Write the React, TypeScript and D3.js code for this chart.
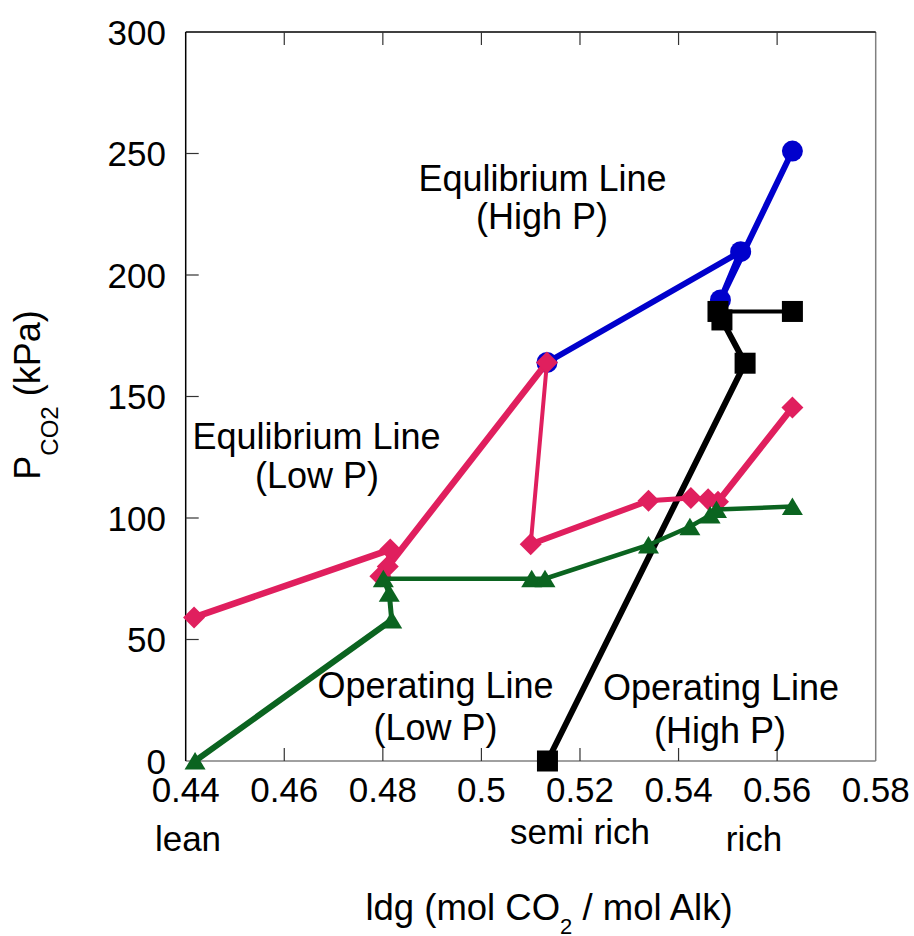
import React from "react";
import * as d3 from "d3";

const xTicks = [0.44, 0.46, 0.48, 0.5, 0.52, 0.54, 0.56, 0.58];
const xTickLabels = ["0.44", "0.46", "0.48", "0.5", "0.52", "0.54", "0.56", "0.58"];
const yTicks = [0, 50, 100, 150, 200, 250, 300];

// Equilibrium Line (High P) – blue circles
const eqHighX = [0.5133, 0.5526, 0.5485, 0.5631];
const eqHighY = [164, 209.6, 189.7, 251];
// Equilibrium Line (Low P) – pink diamonds
const eqLowX = [0.4417, 0.4815, 0.481, 0.4795, 0.5133, 0.51, 0.5339, 0.5425, 0.546, 0.548, 0.5631];
const eqLowY = [59.1, 87, 80, 76, 164, 89.2, 107.1, 108.2, 107.7, 106.7, 145.5];
// Operating Line (Low P) – green triangles
const opLowX = [0.4419, 0.4818, 0.4813, 0.4801, 0.5102, 0.5129, 0.5339, 0.5423, 0.5464, 0.5477, 0.5631];
const opLowY = [0, 58, 69, 75, 75, 75, 88.9, 96.4, 101.2, 103.5, 104.7];
// Operating Line (High P) – black squares
const opHighX = [0.5134, 0.5535, 0.5488, 0.548, 0.5631];
const opHighY = [0, 163.7, 181.5, 185, 185];

// segment stroke widths (style)
const eqHighW = [6, 6, 6];
const eqLowW = [6.5, 6, 6, 6.5, 4, 6, 5, 5, 5, 6.5];
const opLowW = [6, 5, 5, 4.5, 4.5, 4.5, 4.5, 4.5, 4.5, 4.5];
const opHighW = [6, 6, 6, 4];

const W = 914, H = 936;
const L = 185.7, R = 875.7, T = 32, B = 761;
const FONT = "'Liberation Sans', Arial, Helvetica, sans-serif";

const x = d3.scaleLinear().domain([0.44, 0.58]).range([L, R]);
const y = d3.scaleLinear().domain([0, 300]).range([B, T]);

type Pt = [number, number];
const zip = (xs: number[], ys: number[]): Pt[] => xs.map((v, i) => [v, ys[i]]);
const lineGen = d3.line<Pt>().x(d => x(d[0])).y(d => y(d[1]));

function Segments({ pts, widths, color }: { pts: Pt[]; widths: number[]; color: string }) {
  return (
    <g>
      {pts.slice(1).map((p, i) => (
        <path key={i} d={lineGen([pts[i], p]) || ""} stroke={color} strokeWidth={widths[i]} fill="none" strokeLinecap="round" />
      ))}
    </g>
  );
}

export default function App() {
  const blue = "#0000cc";
  const pink = "#e01f5e";
  const green = "#0b6420";
  const black = "#000000";
  const eqHigh = zip(eqHighX, eqHighY);
  const eqLow = zip(eqLowX, eqLowY);
  const opLow = zip(opLowX, opLowY);
  const opHigh = zip(opHighX, opHighY);
  const diamond = "M0,-11 L11,0 L0,11 L-11,0 Z";
  return (
    <svg width={W} height={H} style={{ position: "absolute", left: 0, top: 0, background: "#fff" }} fontFamily={FONT}>
      <rect x={0} y={0} width={W} height={H} fill="#fff" />
      {/* axes frame */}
      <line x1={L} x2={R} y1={B} y2={B} stroke="#808080" strokeWidth={1.5} />
      <line x1={R} x2={R} y1={T} y2={B} stroke="#808080" strokeWidth={1.5} />
      <line x1={L} x2={R} y1={T} y2={T} stroke="#000" strokeWidth={1.5} />
      <line x1={L} x2={L} y1={T} y2={B} stroke="#000" strokeWidth={1.5} />
      {xTicks.slice(1, -1).map(t => (
        <g key={"xt" + t}>
          <line x1={x(t)} x2={x(t)} y1={B} y2={B - 13} stroke="#333" strokeWidth={1.2} />
          <line x1={x(t)} x2={x(t)} y1={T} y2={T + 13} stroke="#333" strokeWidth={1.2} />
        </g>
      ))}
      {yTicks.slice(1, -1).map(t => (
        <line key={"yt" + t} x1={L} x2={L + 13} y1={y(t)} y2={y(t)} stroke="#333" strokeWidth={1.2} />
      ))}
      {xTicks.map((t, i) => (
        <text key={"xl" + t} x={x(t)} y={802} fontSize={35} textAnchor="middle">{xTickLabels[i]}</text>
      ))}
      {yTicks.map(t => (
        <text key={"yl" + t} x={166} y={y(t) + 12.5} fontSize={35} textAnchor="end">{t}</text>
      ))}

      {/* series */}
      <Segments pts={eqHigh} widths={eqHighW} color={blue} />
      {eqHigh.map((d, i) => <circle key={"c" + i} cx={x(d[0])} cy={y(d[1])} r={10.5} fill={blue} />)}
      <Segments pts={opHigh} widths={opHighW} color={black} />
      {opHigh.map((d, i) => <rect key={"s" + i} x={x(d[0]) - 10.5} y={y(d[1]) - 10.5} width={21} height={21} fill={black} />)}
      <Segments pts={eqLow} widths={eqLowW} color={pink} />
      {eqLow.map((d, i) => <path key={"d" + i} d={diamond} transform={`translate(${x(d[0])},${y(d[1])})`} fill={pink} />)}
      <Segments pts={opLow} widths={opLowW} color={green} />
      {opLow.map((d, i) => (
        <path key={"t" + i} d="M0,-9 L10.5,8.5 L-10.5,8.5 Z" transform={`translate(${x(d[0])},${y(d[1])})`} fill={green} />
      ))}

      {/* annotations */}
      <g fontSize={36} textAnchor="middle">
        <text x={542.5} y={191}>Equlibrium Line</text>
        <text x={542} y={229}>(High P)</text>
        <text x={316.5} y={449}>Equlibrium Line</text>
        <text x={317} y={488}>(Low P)</text>
        <text x={435.5} y={698}>Operating Line</text>
        <text x={435.5} y={740}>(Low P)</text>
        <text x={721} y={700}>Operating Line</text>
        <text x={720} y={743}>(High P)</text>
      </g>
      <g fontSize={35} textAnchor="middle">
        <text x={188} y={851}>lean</text>
        <text x={580} y={844}>semi rich</text>
        <text x={754} y={851}>rich</text>
      </g>
      {/* x title */}
      <text x={549} y={920} fontSize={36.5} textAnchor="middle">
        ldg (mol CO<tspan fontSize={22} dy={14}>2</tspan><tspan dy={-14}> / mol Alk)</tspan>
      </text>
      {/* y title */}
      <text transform="translate(40,395) rotate(-90)" fontSize={36} textAnchor="middle">
        P<tspan fontSize={24} dy={18}>CO2</tspan><tspan dy={-18}> (kPa)</tspan>
      </text>
    </svg>
  );
}
